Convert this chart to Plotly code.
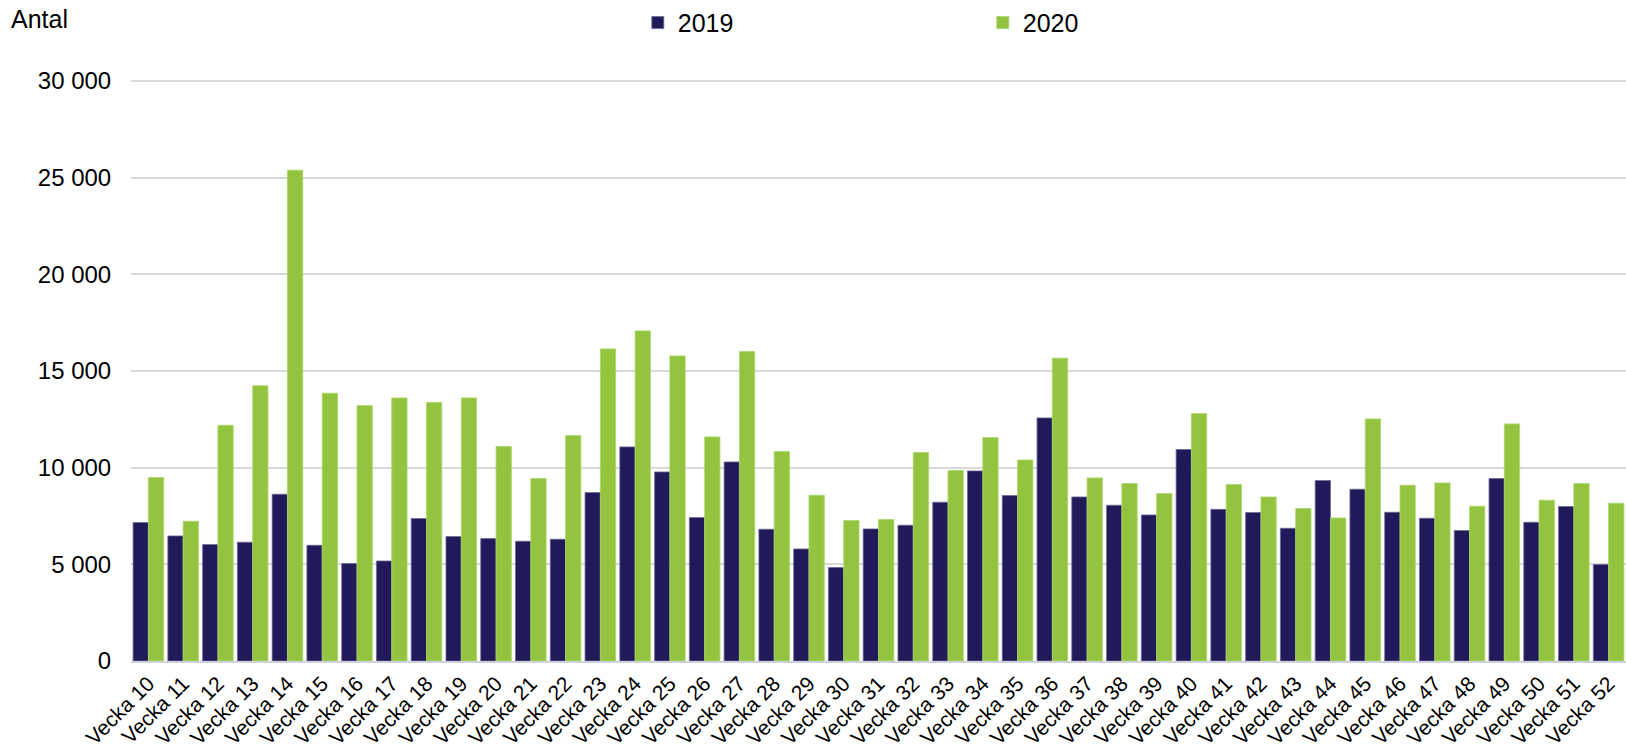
import plotly.graph_objects as go

weeks = [f"Vecka {w}" for w in range(10, 53)]
v2019 = [7159, 6466, 6021, 6141, 8622, 5984, 5038, 5172, 7365, 6434,
         6331, 6192, 6295, 8710, 11069, 9776, 7417, 10293, 6812, 5793,
         4831, 6828, 7019, 8209, 9828, 8555, 12569, 8483, 8053, 7552,
         10934, 7840, 7676, 6864, 9331, 8881, 7691, 7381, 6745, 9434,
         7174, 7986, 4986]
v2020 = [9486, 7226, 12190, 14235, 25380, 13846, 13210, 13604, 13366, 13604,
         11090, 9434, 11659, 16138, 17069, 15776, 11586, 16003, 10831, 8570,
         7262, 7314, 10779, 9848, 11555, 10397, 15657, 9466, 9176, 8659,
         12797, 9124, 8483, 7883, 7397, 12517, 9088, 9207, 8002, 12259,
         8312, 9176, 8157]
yticks = [0, 5000, 10000, 15000, 20000, 25000, 30000]
ytick_text = ["0", "5 000", "10 000", "15 000", "20 000", "25 000", "30 000"]

FONT = "Liberation Sans, Arial, sans-serif"
fig = go.Figure()
fig.add_bar(x=weeks, y=v2019, name="2019", marker=dict(color="#201A5A", line=dict(color="#6b6894", width=0.8)))
fig.add_bar(x=weeks, y=v2020, name="2020", marker=dict(color="#94C43F", line=dict(color="#a8d866", width=0.8)))

fig.update_layout(
    width=1626, height=752,
    barmode="group", bargap=0.12, bargroupgap=0,
    plot_bgcolor="white", paper_bgcolor="white",
    margin=dict(l=131, r=0, t=75, b=91, autoexpand=False),
    font=dict(family=FONT, color="#000000", size=22),
    legend=dict(orientation="h", x=0.339, xanchor="left", y=1.089, yanchor="middle",
                font=dict(size=25), entrywidth=300, entrywidthmode="pixels",
                bgcolor="rgba(0,0,0,0)"),
    annotations=[dict(text="Antal", xref="paper", yref="paper", x=-0.0816, y=1.095,
                      xanchor="left", yanchor="middle", showarrow=False,
                      font=dict(size=25, family=FONT))],
)
fig.update_xaxes(tickangle=-45, tickfont=dict(size=21), showline=True, linecolor="#d0d0d8",
                 linewidth=2, showgrid=False, range=[-0.5, 42.5], ticks="", automargin=False)
fig.update_yaxes(range=[0, 30300], tickvals=yticks, ticktext=ytick_text, showgrid=True,
                 gridcolor="#d9d9d9", gridwidth=1.5, zeroline=False, tickfont=dict(size=24),
                 ticks="outside", ticklen=14, tickcolor="rgba(0,0,0,0)", automargin=False)
fig.write_html("out.html", config={"displayModeBar": False},
               post_script="document.body.style.margin='0';document.body.style.padding='0';")
